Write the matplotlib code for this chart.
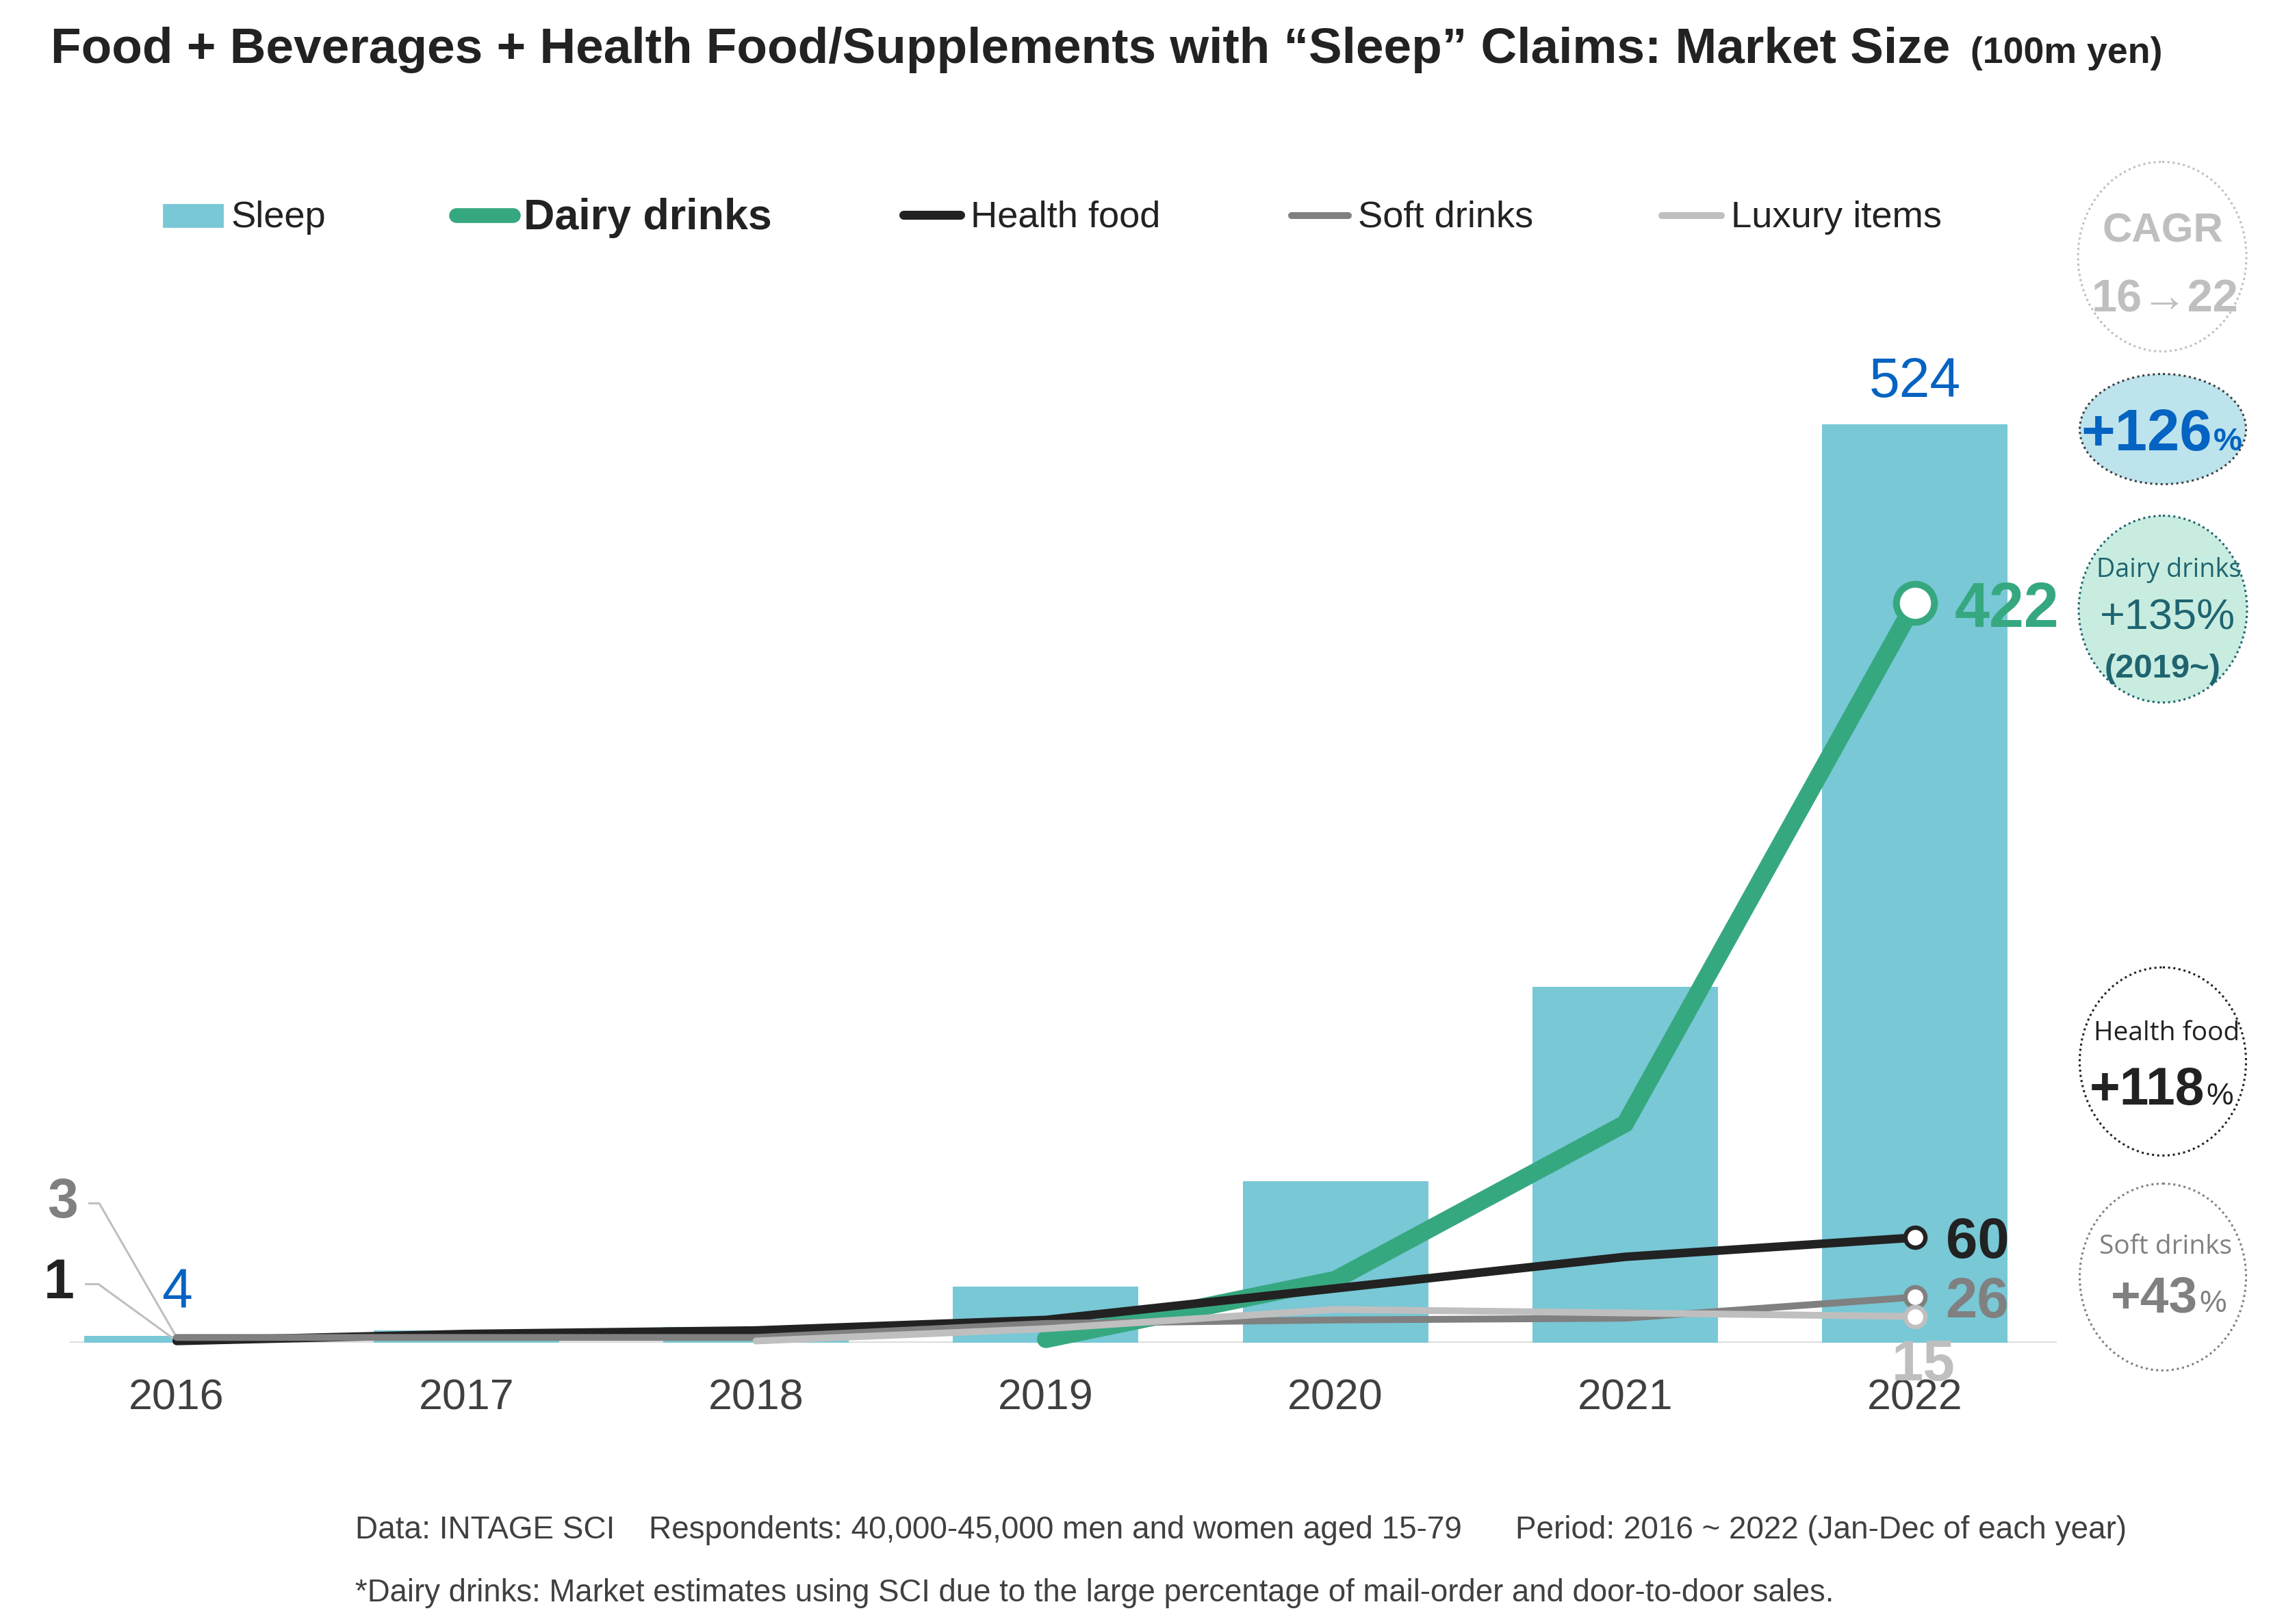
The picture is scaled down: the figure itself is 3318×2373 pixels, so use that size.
import numpy as np
import matplotlib
matplotlib.use('Agg')
import matplotlib.pyplot as plt
from matplotlib.patches import Ellipse, Rectangle

# ---------------- data ----------------
years = ['2016', '2017', '2018', '2019', '2020', '2021', '2022']
sleep = [4, 7, 9, 32, 92, 203, 524]
dairy = [np.nan, np.nan, np.nan, 2, 36, 125, 422]
health = [1, 5, 7, 13, 31, 49, 60]
soft = [3, 3, 3, 11, 13, 14, 26]
luxury = [np.nan, np.nan, 1, 8, 19, 17, 15]
legend_labels = ['Sleep', 'Dairy drinks', 'Health food', 'Soft drinks', 'Luxury items']
title_main = 'Food + Beverages + Health Food/Supplements with \u201cSleep\u201d Claims: Market Size'
title_unit = '(100m yen)'
note1 = ['Data: INTAGE SCI', 'Respondents: 40,000-45,000 men and women aged 15-79',
         'Period: 2016 ~ 2022 (Jan-Dec of each year)']
note2 = '*Dairy drinks: Market estimates using SCI due to the large percentage of mail-order and door-to-door sales.'

# ---------------- style ----------------
C_SLEEP = '#78C8D6'
C_DAIRY = '#36A880'
C_HEALTH = '#222222'
C_SOFT = '#808080'
C_LUX = '#BFBFBF'
C_BLUE = '#0563C1'
C_TEAL = '#1F6470'
C_TXT = '#222222'
C_GREY_TXT = '#404040'

plt.rcParams['font.family'] = ['Liberation Sans', 'DejaVu Sans']
W, H, DPI = 3318, 2373, 200
PT = 72.0 / DPI  # px -> pt

fig = plt.figure(figsize=(W / DPI, H / DPI), dpi=DPI)
fig.patch.set_facecolor('white')

# main axes (pixel geometry of reference)
ax = fig.add_axes([102 / W, 1 - 1962 / H, (3005 - 102) / W, (1962 - 425.4) / H])
ax.set_facecolor('none')
ax.set_xlim(-0.369, 6.49)
ax.set_ylim(0, 600)
x = np.arange(len(years))

ax.axhline(0, color='#D9D9D9', lw=1.3, zorder=1)
ax.bar(x, sleep, width=0.64, color=C_SLEEP, zorder=2)

ax.plot(x, dairy, color=C_DAIRY, lw=9.3, solid_capstyle='round', zorder=3, clip_on=False)
ax.plot(x, health, color=C_HEALTH, lw=4.5, solid_capstyle='round', zorder=4, clip_on=False)
ax.plot(x, soft, color=C_SOFT, lw=3.6, solid_capstyle='round', zorder=4.2, clip_on=False)
ax.plot(x, luxury, color=C_LUX, lw=3.6, solid_capstyle='round', zorder=4.4, clip_on=False)

ax.plot(x[-1], dairy[-1], 'o', ms=20, mfc='white', mec=C_DAIRY, mew=3.6, zorder=7, clip_on=False)
for ser, col, z in [(health, C_HEALTH, 7.1), (soft, C_SOFT, 7.2), (luxury, C_LUX, 7.3)]:
    ax.plot(x[-1], ser[-1], 'o', ms=10.5, mfc='white', mec=col, mew=2.3, zorder=z, clip_on=False)

# value labels
for i in (0, len(x) - 1):
    ax.annotate(f'{sleep[i]}', xy=(x[i], sleep[i]), xytext=(0, 40 * PT), textcoords='offset points',
                ha='center', va='baseline', fontsize=29, color=C_BLUE)
ax.annotate(f'{dairy[-1]}', xy=(x[-1], dairy[-1]), xytext=(58 * PT, -35 * PT), textcoords='offset points',
            ha='left', va='baseline', fontsize=33, fontweight='bold', color=C_DAIRY)
ax.annotate(f'{health[-1]}', xy=(x[-1], health[-1]), xytext=(45 * PT, -30 * PT), textcoords='offset points',
            ha='left', va='baseline', fontsize=30, fontweight='bold', color=C_HEALTH)
ax.annotate(f'{soft[-1]}', xy=(x[-1], soft[-1]), xytext=(45 * PT, -30 * PT), textcoords='offset points',
            ha='left', va='baseline', fontsize=30, fontweight='bold', color=C_SOFT)
ax.annotate(f'{luxury[-1]}', xy=(x[-1], luxury[-1]), xytext=(13 * PT, -93 * PT), textcoords='offset points',
            ha='center', va='baseline', fontsize=30, fontweight='bold', color=C_LUX)
# leader-line labels at 2016
ax.annotate(f'{soft[0]}', xy=(x[0], soft[0]), xytext=(-167 * PT, 196 * PT), textcoords='offset points',
            ha='center', va='center', fontsize=29, fontweight='bold', color=C_SOFT,
            arrowprops=dict(arrowstyle='-', color=C_LUX, lw=1.1, shrinkA=4, shrinkB=0,
                            connectionstyle='angle,angleA=0,angleB=120,rad=0'))
ax.annotate(f'{health[0]}', xy=(x[0], health[0]), xytext=(-172 * PT, 83 * PT), textcoords='offset points',
            ha='center', va='center', fontsize=29, fontweight='bold', color=C_HEALTH,
            arrowprops=dict(arrowstyle='-', color=C_LUX, lw=1.1, shrinkA=4, shrinkB=0,
                            connectionstyle='angle,angleA=0,angleB=144,rad=0'))

ax.set_xticks(x, years)
ax.set_yticks([])
ax.tick_params(axis='x', length=0, pad=51 * PT, labelsize=22.6, labelcolor=C_GREY_TXT)
for s in ax.spines.values():
    s.set_visible(False)

# ---------------- overlay in pixel coordinates ----------------
ov = fig.add_axes([0, 0, 1, 1], zorder=5)
ov.set_xlim(0, W)
ov.set_ylim(H, 0)
ov.axis('off')

# title
t1 = ov.text(74, 92, title_main, fontsize=26.3, fontweight='bold', color=C_TXT, va='baseline', ha='left')
fig.canvas.draw()
bb = t1.get_window_extent()
ov.text(bb.x1 + 30, 92, title_unit, fontsize=19.3, fontweight='bold', color=C_TXT, va='baseline', ha='left')

# legend
ov.add_patch(Rectangle((239, 299), 86, 32, color=C_SLEEP))
ov.text(337, 332, legend_labels[0], fontsize=19.6, color=C_TXT, va='baseline')
ov.plot([667, 750], [315, 315], lw=7.8, color=C_DAIRY, solid_capstyle='round')
ov.text(765, 335, legend_labels[1], fontsize=22.6, fontweight='bold', color=C_TXT, va='baseline')
ov.plot([1320, 1403], [314, 314], lw=4.7, color=C_HEALTH, solid_capstyle='round')
ov.text(1418, 332, legend_labels[2], fontsize=19.6, color=C_TXT, va='baseline')
ov.plot([1887, 1970], [315, 315], lw=3.6, color=C_SOFT, solid_capstyle='round')
ov.text(1984, 332, legend_labels[3], fontsize=19.6, color=C_TXT, va='baseline')
ov.plot([2428, 2515], [315, 315], lw=3.6, color=C_LUX, solid_capstyle='round')
ov.text(2529, 332, legend_labels[4], fontsize=19.6, color=C_TXT, va='baseline')

# CAGR bubbles
dot = (0, (1, 1.5))
ov.add_patch(Ellipse((3159, 375), 246, 277, fc='white', ec=C_LUX, lw=1.1, ls=dot))
ov.text(3160, 354, 'CAGR', fontsize=21.6, fontweight='bold', color=C_LUX, ha='center', va='baseline')
ov.text(3163, 455, '16\u219222', fontsize=24, fontweight='bold', color=C_LUX, ha='center', va='baseline')

ov.add_patch(Ellipse((3160, 627), 243, 161, fc='#BDE3EC', ec='#404040', lw=1.1, ls=dot))
ov.text(3232, 658, '+126', fontsize=30.6, fontweight='bold', color=C_BLUE, ha='right', va='baseline')
ov.text(3234, 658, '%', fontsize=17, fontweight='bold', color=C_BLUE, ha='left', va='baseline')

ov.add_patch(Ellipse((3160, 890), 246, 273, fc='#C8EDE0', ec=C_TEAL, lw=1.1, ls=dot))
ov.text(3169, 843, 'Dairy drinks', fontsize=13.6, family=['Open Sans', 'DejaVu Sans'], color=C_TEAL,
        ha='center', va='baseline')
ov.text(3167, 920, '+135%', fontsize=22.7, color=C_TEAL, ha='center', va='baseline')
ov.text(3160, 990, '(2019~)', fontsize=17.6, fontweight='bold', color=C_TEAL, ha='center', va='baseline')

ov.add_patch(Ellipse((3160, 1551), 243, 275, fc='white', ec=C_HEALTH, lw=1.1, ls=dot))
ov.text(3166, 1520, 'Health food', fontsize=14, family=['Open Sans', 'DejaVu Sans'], color=C_TXT,
        ha='center', va='baseline')
ov.text(3221, 1614, '+118', fontsize=27.6, fontweight='bold', color=C_TXT, ha='right', va='baseline')
ov.text(3223, 1614, '%', fontsize=16, color=C_TXT, ha='left', va='baseline')

ov.add_patch(Ellipse((3160, 1866), 243, 273, fc='white', ec=C_SOFT, lw=1.1, ls=dot))
ov.text(3164, 1832, 'Soft drinks', fontsize=14, family=['Open Sans', 'DejaVu Sans'], color=C_SOFT,
        ha='center', va='baseline')
ov.text(3211, 1917, '+43', fontsize=27, fontweight='bold', color=C_SOFT, ha='right', va='baseline')
ov.text(3213, 1917, '%', fontsize=16, color=C_SOFT, ha='left', va='baseline')

# footnotes
for xx, s in zip([519, 948, 2214], note1):
    ov.text(xx, 2248, s, fontsize=16.5, color=C_GREY_TXT, ha='left', va='baseline')
ov.text(519, 2340, note2, fontsize=16.4, color=C_GREY_TXT, ha='left', va='baseline')

fig.savefig('out.png', dpi=DPI, facecolor='white')
